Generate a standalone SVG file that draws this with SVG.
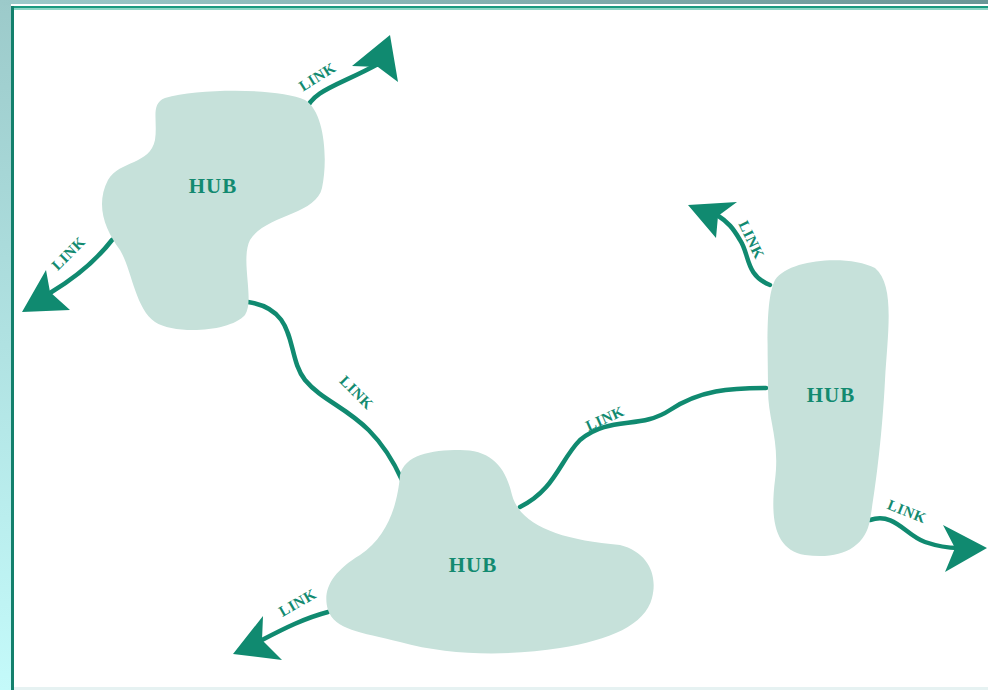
<svg xmlns="http://www.w3.org/2000/svg" width="988" height="690" viewBox="0 0 988 690">
<defs>
<linearGradient id="bgv" x1="0" y1="0" x2="0" y2="1">
<stop offset="0" stop-color="#9ccaca"/>
<stop offset="1" stop-color="#c4fafa"/>
</linearGradient>
<linearGradient id="bgh" x1="0" y1="0" x2="1" y2="0">
<stop offset="0" stop-color="#9ccaca"/>
<stop offset="1" stop-color="#6a9696"/>
</linearGradient>
<style>
.hub{fill:#c6e1da;stroke:none}
.link{fill:none;stroke:#108a70;stroke-width:4.5;stroke-linecap:round}
.head{fill:#108a70}
.lbl{font-family:"Liberation Serif","DejaVu Serif",serif;font-weight:bold;fill:#128a70;font-size:15px;letter-spacing:0.5px;text-anchor:middle}
.hubt{font-family:"Liberation Serif","DejaVu Serif",serif;font-weight:bold;fill:#128a70;font-size:21px;letter-spacing:1px;text-anchor:middle}
</style>
</defs>
<rect x="0" y="0" width="988" height="690" fill="url(#bgv)"/>
<rect x="0" y="0" width="988" height="5" fill="url(#bgh)"/>
<rect x="11" y="4" width="977" height="686" fill="#ffffff"/>
<rect x="11" y="6" width="977" height="2" fill="#1a9a80"/>
<rect x="11" y="8" width="977" height="2" fill="#8ed6c6"/>
<rect x="11" y="6" width="3" height="684" fill="#13806c"/>
<rect x="14" y="687" width="974" height="3" fill="#e6f2f2"/>

<g id="connectors">
<path class="link" d="M 305,112 C 312,90 340,85 378,64"/>
<polygon class="head" points="390,35 398,82 378,67 352,66"/>
<path class="link" d="M 112,240 C 95,262 75,278 50,293"/>
<polygon class="head" points="22,312 46,270 50,292 70,310"/>
<path class="link" d="M 248,302 C 300,310 285,355 305,380 C 330,410 370,410 402,480"/>
<path class="link" d="M 520,507 C 555,490 560,460 580,440 C 610,415 640,430 670,410 C 700,390 730,388 766,388"/>
<path class="link" d="M 770,285 C 745,275 750,255 740,240 C 733,228 728,222 717,215"/>
<polygon class="head" points="688,205 737,202 718,216 716,238"/>
<path class="link" d="M 870,520 C 895,512 905,535 925,542 C 940,547 950,548 958,548"/>
<polygon class="head" points="987,548 945,572 955,548 943,525"/>
<path class="link" d="M 328,612 C 305,618 285,628 262,640"/>
<polygon class="head" points="233,654 263,616 262,640 282,660"/>
<text class="lbl" transform="translate(320,81) rotate(-32)">LINK</text>
<text class="lbl" transform="translate(72,257) rotate(-45)">LINK</text>
<text class="lbl" transform="translate(353,396) rotate(45)">LINK</text>
<text class="lbl" transform="translate(607,423) rotate(-24)">LINK</text>
<text class="lbl" transform="translate(747,242) rotate(64)">LINK</text>
<text class="lbl" transform="translate(905,516) rotate(22)">LINK</text>
<text class="lbl" transform="translate(300,607) rotate(-30)">LINK</text>
</g>

<g id="hub1">
<path class="hub" d="M 165,98 C 200,88 280,88 305,100 C 325,112 328,160 322,188 C 316,215 265,215 250,240 C 240,260 255,300 245,315 C 230,332 175,335 155,322 C 135,308 132,270 120,250 C 105,230 95,205 108,180 C 120,160 150,165 155,140 C 158,120 150,104 165,98 Z"/>
<text class="hubt" x="213" y="193">HUB</text>
</g>
<g id="hub2">
<path class="hub" d="M 400,475 C 405,455 430,450 460,450 C 490,450 505,465 512,495 C 520,525 560,540 620,545 C 648,552 658,575 652,598 C 645,625 610,640 560,648 C 510,656 450,656 400,642 C 360,632 335,630 328,610 C 322,590 332,572 360,555 C 390,535 398,500 400,475 Z"/>
<text class="hubt" x="473" y="572">HUB</text>
</g>
<g id="hub3">
<path class="hub" d="M 775,280 C 790,258 850,255 875,268 C 895,285 888,330 885,380 C 882,440 875,490 870,520 C 865,548 840,560 805,555 C 775,550 770,520 775,480 C 780,440 768,420 768,390 C 768,350 765,300 775,280 Z"/>
<text class="hubt" x="831" y="402">HUB</text>
</g>
</svg>
